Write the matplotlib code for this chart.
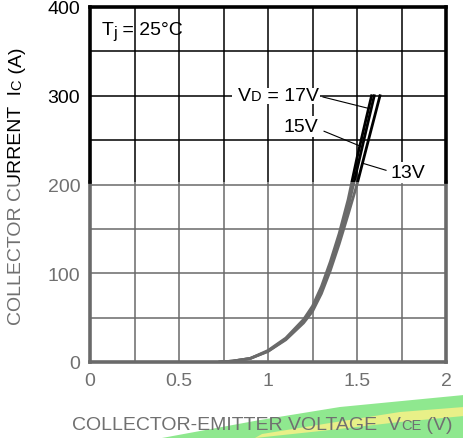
import matplotlib.pyplot as plt
import numpy as np
from matplotlib.patches import Rectangle, Polygon
from matplotlib.transforms import Bbox, TransformedBbox

plt.rcParams['font.family'] = ['Liberation Sans', 'DejaVu Sans']

# data (VCE in V, IC in A)
vce_17 = [0.73, 0.80, 0.90, 1.00, 1.10, 1.20, 1.25, 1.30, 1.35, 1.40, 1.45, 1.50, 1.55, 1.582]
ic_17 = [0, 1, 4, 13, 27, 48, 63, 85, 113, 145, 183, 230, 273, 300]
vce_15 = [0.73, 0.80, 0.90, 1.00, 1.10, 1.20, 1.25, 1.30, 1.35, 1.40, 1.45, 1.50, 1.55, 1.597]
ic_15 = [0, 1, 4, 12, 26, 46, 60, 81, 108, 139, 174, 217, 260, 300]
vce_13 = [0.73, 0.80, 0.90, 1.00, 1.10, 1.20, 1.25, 1.30, 1.35, 1.40, 1.45, 1.50, 1.55, 1.629]
ic_13 = [0, 1, 4, 12, 25, 44, 57, 77, 103, 133, 166, 200, 239, 300]

x_ticks = [0, 0.5, 1, 1.5, 2]
x_labels = ['0', '0.5', '1', '1.5', '2']
y_ticks = [0, 100, 200, 300, 400]
y_labels = ['0', '100', '200', '300', '400']

GREY = '#6a6a6a'
TXT_GREY = '#707070'
SPLIT = 203          # above this the scan is black, below grey
W, H = 464, 439
FS = 14
FS_SMALL = 10.5
RISE = 0.75          # keeps the small caps on the baseline

fig = plt.figure(figsize=(4.64, 4.39), dpi=100)
ax = fig.add_axes([90 / W, 1 - 363 / H, 356 / W, 355 / H])
ax.set_xlim(0, 2)
ax.set_ylim(0, 400)
for s in ax.spines.values():
    s.set_visible(False)

ax.set_xticks(x_ticks)
ax.set_xticklabels(x_labels)
ax.set_yticks(y_ticks)
ax.set_yticklabels(y_labels)
ax.tick_params(axis='y', length=0, pad=7, labelsize=FS)
ax.tick_params(axis='x', length=0, pad=7, labelsize=FS)
for lbl, v in zip(ax.get_yticklabels(), y_ticks):
    lbl.set_color('black' if v > SPLIT else TXT_GREY)
for lbl in ax.get_xticklabels():
    lbl.set_color(TXT_GREY)

# grid
xg = np.arange(0.25, 2, 0.25)
ax.vlines(xg, 0, SPLIT, color=GREY, lw=1.1)
ax.vlines(xg, SPLIT, 400, color='black', lw=1.1)
yg = np.arange(50, 400, 50)
ax.hlines(yg[yg <= SPLIT], 0, 2, color=GREY, lw=1.1)
ax.hlines(yg[yg > SPLIT], 0, 2, color='black', lw=1.1)

# frame
fk = dict(lw=2.6, clip_on=False, solid_capstyle='projecting', zorder=5)
ax.plot([0, 0], [0, SPLIT], color=GREY, **fk)
ax.plot([2, 2], [0, SPLIT], color=GREY, **fk)
ax.plot([0, 0], [SPLIT, 400], color='black', **fk)
ax.plot([2, 2], [SPLIT, 400], color='black', **fk)
ax.plot([0, 2], [0, 0], color=GREY, **fk)
ax.plot([0, 2], [400, 400], color='black', **fk)

# curves, grey below split and black above
for xs, ys in [(vce_13, ic_13), (vce_15, ic_15), (vce_17, ic_17)]:
    lo, = ax.plot(xs, ys, color=GREY, lw=2.0, zorder=4)
    lo.set_clip_path(Rectangle((0, 0), 2, SPLIT, transform=ax.transData))
    hi, = ax.plot(xs, ys, color='black', lw=2.0, zorder=4)
    hi.set_clip_path(Rectangle((0, SPLIT), 2, 400 - SPLIT, transform=ax.transData))

# labels on the curves
wb = dict(boxstyle='square,pad=0.1', fc='white', ec='none')
ax.add_patch(Rectangle((0.8, 291), 0.49, 18, fc='white', ec='none', zorder=5.5))
t = ax.text(1.285, 300, ' = 17V', ha='right', va='center', fontsize=FS, zorder=6)
t = ax.annotate('D', xy=(0, 0), xycoords=t, ha='right', va='bottom', fontsize=FS_SMALL,
                xytext=(0, RISE), textcoords='offset points', zorder=6)
ax.annotate('V', xy=(0, 0), xycoords=t, ha='right', va='bottom', fontsize=FS,
            xytext=(0, -RISE), textcoords='offset points', zorder=6)
ax.plot([1.309, 1.560], [298.6, 286], color='black', lw=0.8, zorder=6)
ax.text(1.285, 265, '15V', ha='right', va='center', fontsize=FS, bbox=wb, zorder=6)
ax.plot([1.315, 1.521], [260, 243], color='black', lw=0.8, zorder=6)
ax.text(1.69, 214, '13V', ha='left', va='center', fontsize=FS, bbox=wb, zorder=6)
ax.plot([1.663, 1.531], [216, 224], color='black', lw=0.8, zorder=6)

t = ax.text(0.065, 375, 'T', ha='left', va='center', fontsize=FS, zorder=6)
t = ax.annotate('j', xy=(1, 0), xycoords=t, ha='left', va='bottom', fontsize=FS_SMALL + 1,
                xytext=(0, -2), textcoords='offset points', zorder=6)
ax.annotate(' = 25°C', xy=(1, 0), xycoords=t, ha='left', va='bottom', fontsize=FS,
            xytext=(0, 2), textcoords='offset points', zorder=6)

# highlighter mark behind the x label
def px(pts):
    return [(a / W, 1 - b / H) for a, b in pts]

fig.patches.append(Polygon(px([(162, 439), (260, 421), (340, 408), (464, 396), (464, 439)]),
                           closed=True, fc='#8fe88f', ec='none', transform=fig.transFigure,
                           figure=fig, zorder=-1))
fig.patches.append(Polygon(px([(255, 439), (330, 431), (400, 423), (464, 417), (464, 408),
                               (400, 413), (330, 424), (262, 435)]),
                           closed=True, fc='#e8f088', ec='none', transform=fig.transFigure,
                           figure=fig, zorder=-1))

# x label
t = fig.text(72 / W, 1 - 430 / H, 'COLLECTOR-EMITTER VOLTAGE  V', ha='left', va='baseline',
             fontsize=FS, color=TXT_GREY)
t2 = ax.annotate('CE', xy=(1, 0), xycoords=t, ha='left', va='bottom', fontsize=FS_SMALL,
                 xytext=(0, RISE), textcoords='offset points',
                 color=TXT_GREY, annotation_clip=False)
ax.annotate(' (V)', xy=(1, 0), xycoords=t2, ha='left', va='bottom', fontsize=FS,
            xytext=(0, -RISE), textcoords='offset points',
            color=TXT_GREY, annotation_clip=False)

# y label, two tone like the scan
clip_hi = TransformedBbox(Bbox([[0, 1 - 183 / H], [1, 1]]), fig.transFigure)
clip_lo = TransformedBbox(Bbox([[0, 0], [1, 1 - 183 / H]]), fig.transFigure)
for col, cb in [(TXT_GREY, clip_lo), ('black', clip_hi)]:
    a = fig.text(17 / W, 1 - 325 / H, 'COLLECTOR CURRENT  I', ha='center', va='bottom',
                 rotation=90, fontsize=FS, color=col)
    b = ax.annotate('C', xy=(1, 1), xycoords=a, ha='right', va='bottom', rotation=90,
                    xytext=(-RISE, 0), textcoords='offset points',
                    fontsize=FS_SMALL, color=col, annotation_clip=False)
    c = ax.annotate(' (A)', xy=(1, 1), xycoords=b, ha='right', va='bottom', rotation=90,
                    xytext=(RISE, 0), textcoords='offset points',
                    fontsize=FS, color=col, annotation_clip=False)
    for tt in (a, b, c):
        tt.set_clip_box(cb)
        tt.set_clip_on(True)

fig.savefig('out.png', dpi=100)
